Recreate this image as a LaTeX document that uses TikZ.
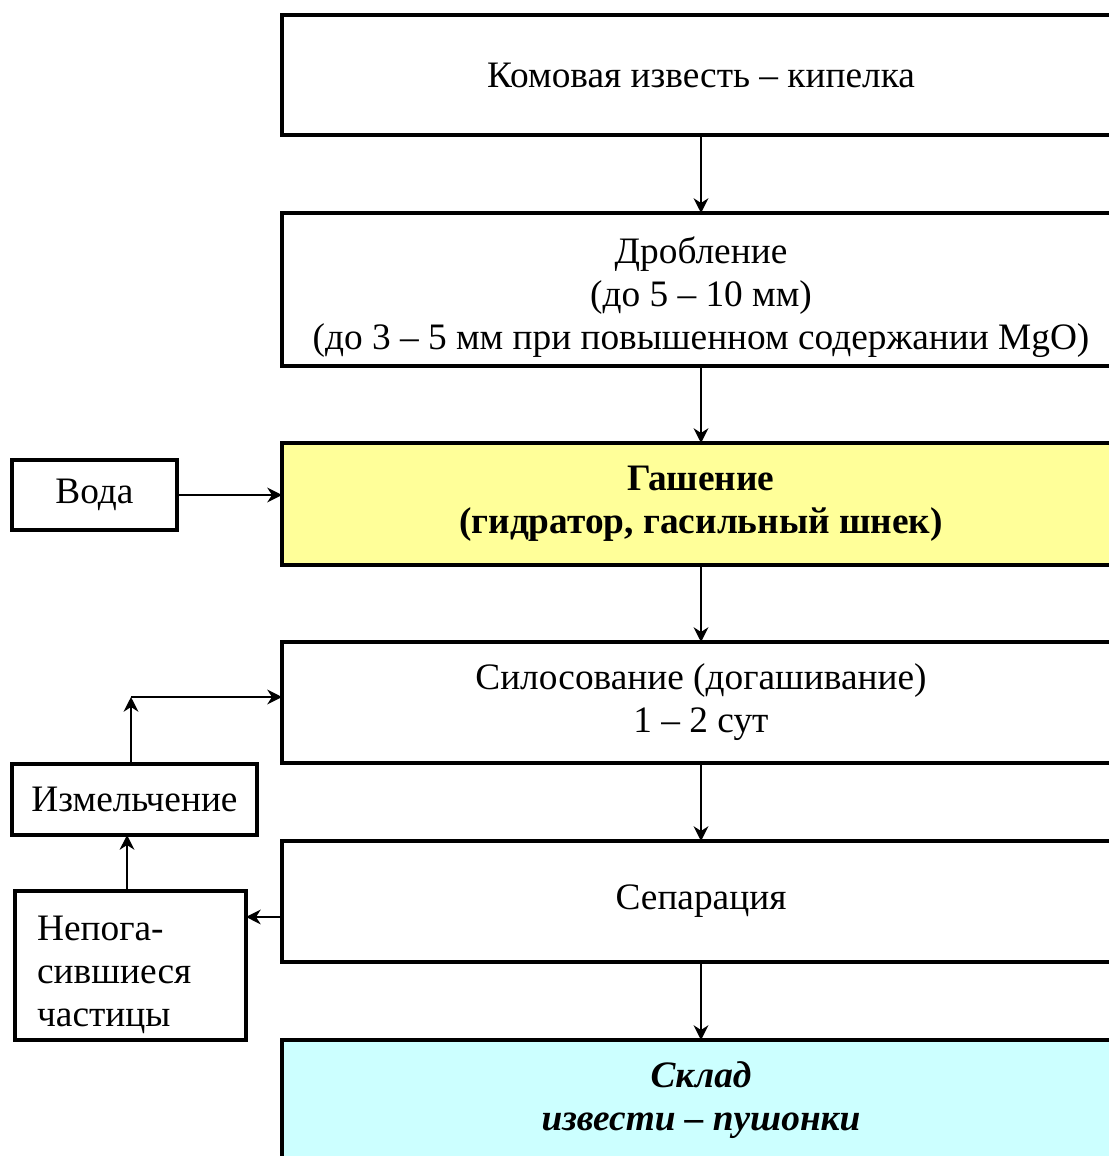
\documentclass[tikz,border=0pt]{standalone}
\usepackage{fontspec}
\setmainfont{Liberation Serif}
\usetikzlibrary{arrows.meta}
\definecolor{slakefill}{HTML}{FFFF99}
\definecolor{storefill}{HTML}{CCFFFF}
\begin{document}
\begin{tikzpicture}[x=0.75pt,y=-0.75pt,
  font=\fontsize{28pt}{32.25pt}\selectfont,
  box/.style={draw=black,line width=3pt,inner sep=0pt,outer sep=0pt,align=center},
  mainbox/.style={box,minimum width=628.5pt},
  arr/.style={line width=2pt,-{Stealth[length=11pt,width=11pt,inset=3.5pt]}}]
\useasboundingbox (0,0) rectangle (1109,1156);
\clip (0,0) rectangle (1109,1156);
\fill[white] (0,0) rectangle (1109,1156);

% main process column
\node[mainbox,minimum height=90pt] (b1) at (701,75) {Комовая известь – кипелка};
\node[mainbox,minimum height=114.75pt] (b2) at (701,289.5)
  {\rule{0pt}{31pt}Дробление\\(до 5 – 10 мм)\\(до 3 – 5 мм при повышенном содержании MgO)};
\node[mainbox,minimum height=91.5pt,fill=slakefill] (b3) at (701,504)
  {\bfseries Гашение\\\bfseries (гидратор, гасильный шнек)};
\node[mainbox,minimum height=90.75pt] (b4) at (701,702.5)
  {Силосование (догашивание)\\1 – 2 сут};
\node[mainbox,minimum height=90.75pt] (b5) at (701,901.5) {Сепарация};
\node[mainbox,minimum height=90pt,fill=storefill] (b6) at (701,1100)
  {\bfseries\itshape Склад\\\bfseries\itshape извести – пушонки};

% side boxes
\node[box,minimum width=123.75pt,minimum height=52.5pt] (voda) at (94.5,495) {Вода};
\node[box,minimum width=183.75pt,minimum height=53.25pt] (izm) at (134.5,799.5) {Измельчение};
\node[box,minimum width=173.25pt,minimum height=111.75pt,align=left,
  text width=140pt] (nepo) at (130.5,965.5) {\rule{0pt}{32pt}Непога-\\сившиеся\\частицы};

% connectors
\draw[arr] (b1) -- (b2);
\draw[arr] (b2) -- (b3);
\draw[arr] (b3) -- (b4);
\draw[arr] (b4) -- (b5);
\draw[arr] (b5) -- (b6);
\draw[arr] (voda.east) -- (voda.east -| b3.west);
\coordinate (sepout) at ([yshift=-11.6pt]b5.west);
\draw[arr] (sepout) -- (sepout -| nepo.east);
\coordinate (upone) at ([xshift=-2.6pt]nepo.north);
\draw[arr] (upone) -- (upone |- izm.south);
\coordinate (corner) at (131,697);
\draw[arr] (corner |- izm.north) -- (corner);
\draw[arr] (corner) -- (corner -| b4.west);
\end{tikzpicture}
\end{document}
